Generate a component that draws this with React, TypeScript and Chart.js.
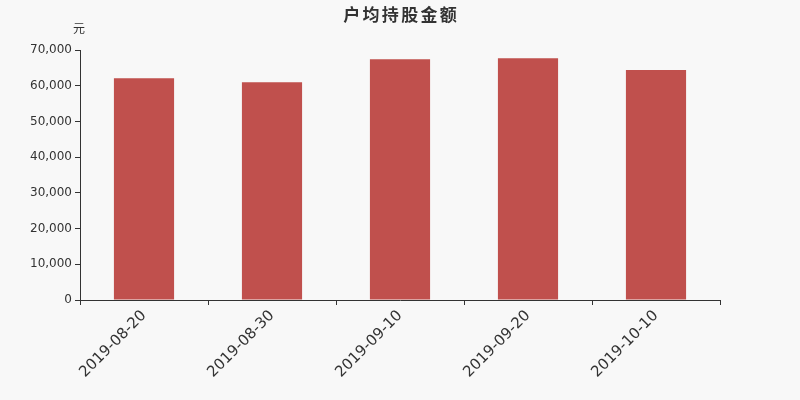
import { useEffect, useRef } from 'react';
import { Chart, registerables } from 'chart.js';

Chart.register(...registerables);

const dates = ['2019-08-20', '2019-08-30', '2019-09-10', '2019-09-20', '2019-10-10'];
const avgHolding = [62100, 61000, 67400, 67700, 64400];
const title = '户均持股金额';
const unit = '元';

const textColor = '#333333';

const headerPlugin = {
  id: 'header',
  afterDraw(chart: Chart) {
    const ctx = chart.ctx;
    ctx.save();
    ctx.fillStyle = textColor;
    ctx.textAlign = 'center';
    ctx.textBaseline = 'middle';
    // title glyphs are spaced out a bit, so place them one by one
    ctx.font = 'bold 17px "Noto Sans CJK SC", sans-serif';
    const chars = Array.from(title);
    const pitch = 19.3;
    chars.forEach((c, i) => {
      ctx.fillText(c, 400 + (i - (chars.length - 1) / 2) * pitch, 14.5);
    });
    ctx.font = '12px "Noto Sans CJK SC", sans-serif';
    ctx.fillText(unit, 79, 28);
    ctx.restore();
  },
};

export default function App() {
  const canvasRef = useRef<HTMLCanvasElement>(null);
  const chartRef = useRef<Chart | null>(null);

  useEffect(() => {
    document.body.style.margin = '0';
    if (!canvasRef.current) return;
    chartRef.current?.destroy();

    chartRef.current = new Chart(canvasRef.current, {
      type: 'bar',
      data: {
        labels: dates,
        datasets: [
          {
            data: avgHolding,
            backgroundColor: '#c0504d',
            borderWidth: 0,
            barPercentage: 0.47,
            categoryPercentage: 1,
          },
        ],
      },
      options: {
        responsive: false,
        animation: false,
        layout: { padding: { top: 50, right: 80, left: 0, bottom: 0 } },
        plugins: {
          legend: { display: false },
          tooltip: { enabled: false },
        },
        scales: {
          x: {
            afterFit: (scale: any) => {
              scale.height = 100;
            },
            border: { color: textColor, width: 1 },
            grid: { drawOnChartArea: false, drawTicks: true, tickLength: 5, color: textColor },
            ticks: {
              color: textColor,
              minRotation: 45,
              maxRotation: 45,
              padding: 2,
              font: { family: 'DejaVu Sans', size: 15 },
            },
          },
          y: {
            min: 0,
            max: 70000,
            afterFit: (scale: any) => {
              scale.width = 80;
            },
            border: { color: textColor, width: 1 },
            grid: { drawOnChartArea: false, drawTicks: true, tickLength: 5, color: textColor },
            ticks: {
              stepSize: 10000,
              color: textColor,
              padding: 3,
              font: { family: 'DejaVu Sans', size: 12 },
              callback: (v: any) => Number(v).toLocaleString('en-US'),
            },
          },
        },
      },
      plugins: [headerPlugin],
    });

    return () => {
      chartRef.current?.destroy();
      chartRef.current = null;
    };
  }, []);

  return (
    <div style={{ width: 800, height: 400, background: '#f8f8f8' }}>
      <canvas ref={canvasRef} width={800} height={400} />
    </div>
  );
}
